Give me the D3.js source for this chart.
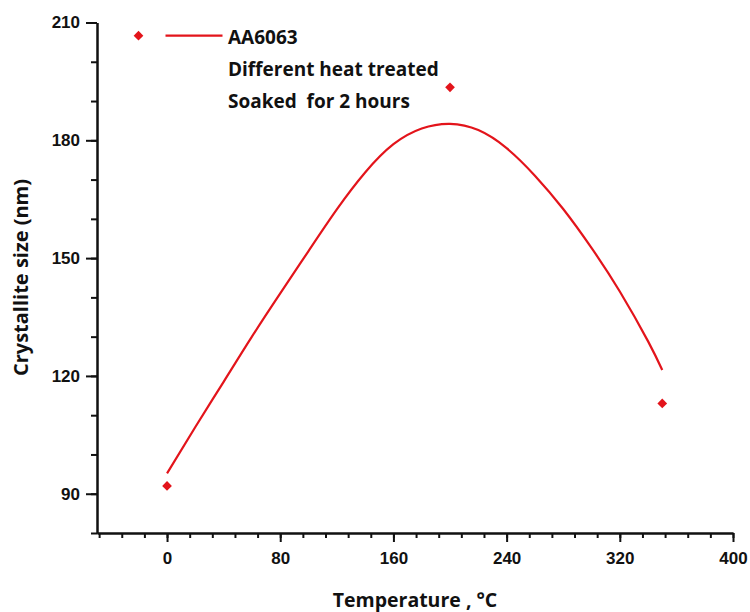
<!DOCTYPE html>
<html>
<head>
<meta charset="utf-8">
<title>Crystallite size vs temperature</title>
<script src="https://cdnjs.cloudflare.com/ajax/libs/d3/7.8.5/d3.min.js"></script>
<style>
  body { margin: 0; background: #fff; }
  .tick text { font-family: "Liberation Sans", Arial, sans-serif; font-weight: bold; font-size: 17px; fill: #111; }
  .lbl { font-family: "Open Sans", Lato, sans-serif; font-weight: bold; fill: #111; white-space: pre; }
</style>
</head>
<body>
<div id="chart"></div>
<script>
// measured points
var tempC  = [0, 200, 350];
var sizeNm = [92, 193.5, 113];

// fitted curve
var fitT    = [0, 20, 40, 60, 80, 100, 120, 140, 160, 180, 200, 220, 240, 260, 280, 300, 320, 340, 350];
var fitSize = [95.2, 107.0, 118.5, 130.0, 141.0, 151.8, 162.4, 171.8, 179.0, 183.0, 184.2, 182.6, 178.0, 171.0, 162.5, 152.6, 141.5, 128.8, 121.5];

var xTicks = [0, 80, 160, 240, 320, 400];
var yTicks = [90, 120, 150, 180, 210];
var xMinor = d3.range(-48, 401, 16);
var yMinor = d3.range(80, 211, 10);

var legendText = ["AA6063", "Different heat treated", "Soaked  for 2 hours"];

var w = 750, h = 612;
var red = "#e3141b";

var svg = d3.select("#chart").append("svg")
    .attr("width", w)
    .attr("height", h);

var x = d3.scaleLinear().domain([-49.5, 400]).range([97, 733]);
var y = d3.scaleLinear().domain([80, 210]).range([533, 22.5]);

// minor ticks first, majors on top
svg.append("g")
    .attr("transform", "translate(0,533)")
    .call(d3.axisBottom(x).tickValues(xMinor).tickSize(5).tickSizeOuter(0).tickFormat(""))
    .call(g => g.selectAll("line,path").attr("stroke", "#111").attr("stroke-width", 2));
svg.append("g")
    .attr("transform", "translate(0,533)")
    .call(d3.axisBottom(x).tickValues(xTicks).tickSize(9).tickSizeOuter(0).tickPadding(10))
    .call(g => g.selectAll("line,path").attr("stroke", "#111").attr("stroke-width", 2));

svg.append("g")
    .attr("transform", "translate(97,0)")
    .call(d3.axisLeft(y).tickValues(yMinor).tickSize(6).tickSizeOuter(0).tickFormat(""))
    .call(g => g.selectAll("line,path").attr("stroke", "#111").attr("stroke-width", 2));
svg.append("g")
    .attr("transform", "translate(97,0)")
    .call(d3.axisLeft(y).tickValues(yTicks).tickSize(11).tickSizeOuter(0).tickPadding(6))
    .call(g => g.selectAll("line,path").attr("stroke", "#111").attr("stroke-width", 2));

// fit line
var line = d3.line()
    .x((d, i) => x(fitT[i]))
    .y(d => y(d))
    .curve(d3.curveNatural);

svg.append("path")
    .attr("d", line(fitSize))
    .attr("fill", "none")
    .attr("stroke", red)
    .attr("stroke-width", 2.2);

// data markers
var diamond = d3.symbol().type(d3.symbolDiamond2).size(60);
svg.selectAll(".pt")
    .data(sizeNm)
    .enter().append("path")
    .attr("class", "pt")
    .attr("d", diamond)
    .attr("transform", (d, i) => "translate(" + x(tempC[i]) + "," + y(d) + ")")
    .attr("fill", red);

// legend
svg.append("path")
    .attr("d", diamond)
    .attr("transform", "translate(138.5,35.7)")
    .attr("fill", red);
svg.append("line")
    .attr("x1", 165.5).attr("x2", 222.5)
    .attr("y1", 35.7).attr("y2", 35.7)
    .attr("stroke", red)
    .attr("stroke-width", 2.2);
svg.selectAll(".leg")
    .data(legendText)
    .enter().append("text")
    .attr("class", "lbl leg")
    .attr("x", 228)
    .attr("y", (d, i) => 44 + i * 31.8)
    .attr("font-size", 19)
    .text(d => d);

// axis titles
svg.append("text")
    .attr("class", "lbl")
    .attr("x", 415)
    .attr("y", 607)
    .attr("text-anchor", "middle")
    .attr("font-size", 19.5)
    .text("Temperature , °C");

svg.append("text")
    .attr("class", "lbl")
    .attr("transform", "translate(28,277.5) rotate(-90)")
    .attr("text-anchor", "middle")
    .attr("font-size", 20)
    .text("Crystallite size (nm)");
</script>
</body>
</html>
